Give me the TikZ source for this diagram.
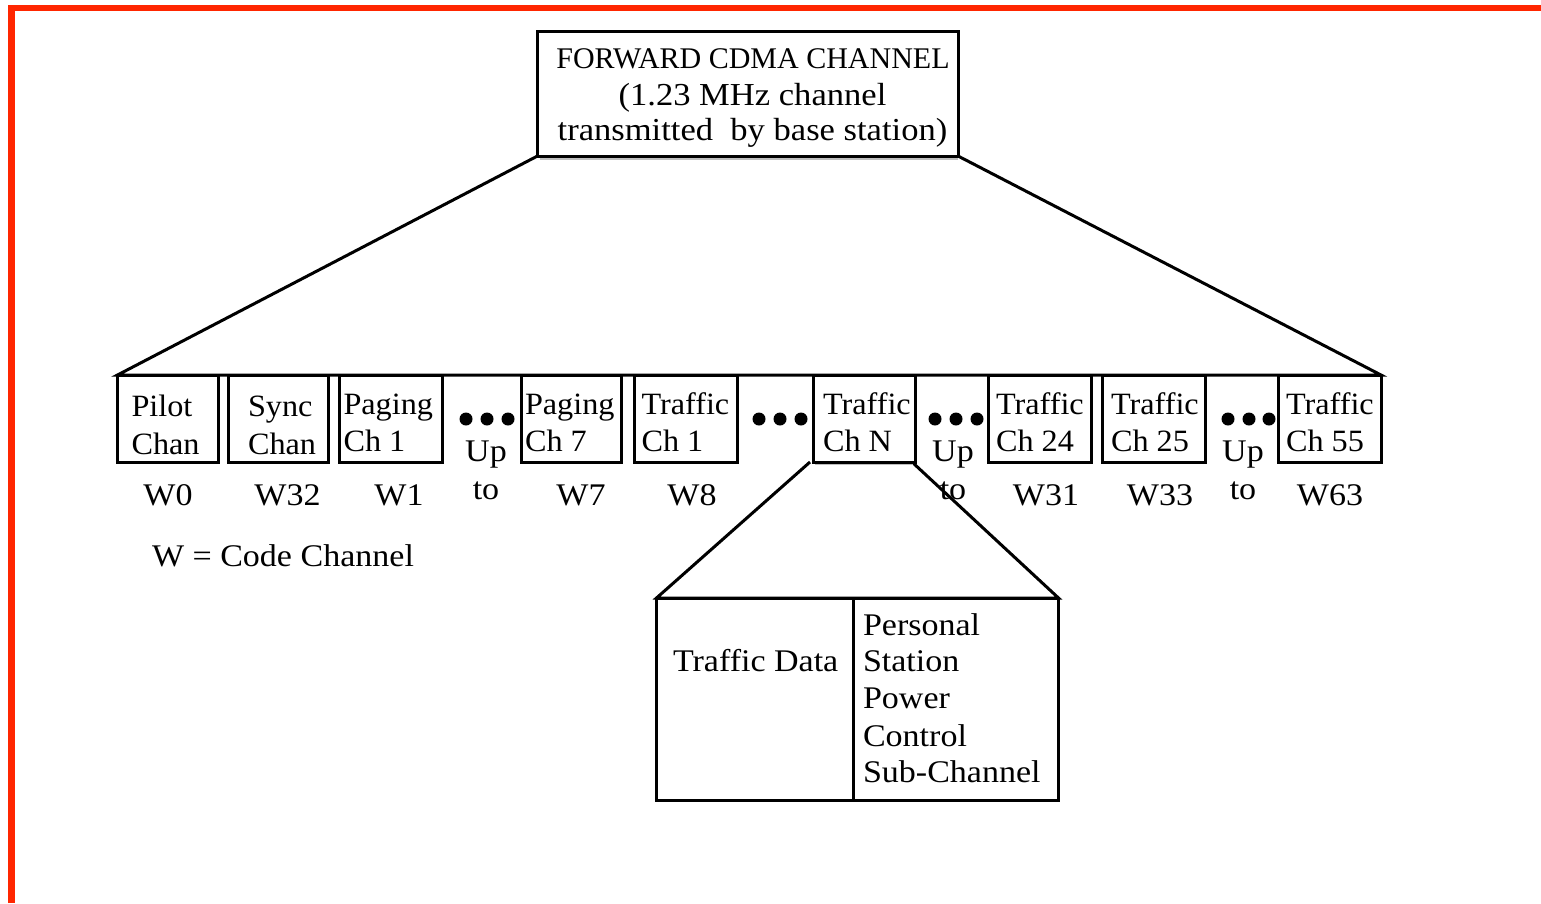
\documentclass[tikz,border=0pt]{standalone}
\usepackage{fontspec}
\setmainfont{Liberation Serif}
\newfontfamily\plainserif{Liberation Serif}
\newfontfamily\wideserif{Liberation Serif}[FakeStretch=1.08]
\newfontfamily\boxserif{Liberation Serif}[FakeStretch=1.04]
\usetikzlibrary{calc}
\definecolor{framered}{RGB}{255,38,0}
\definecolor{shadowgray}{RGB}{190,190,190}

\begin{document}
\begin{tikzpicture}[x=1pt,y=-1pt,
  every node/.style={inner sep=0pt, outer sep=0pt},
  chbox/.style={draw, line width=3pt, minimum width=#1, minimum height=87pt},
  bigbox/.style={draw, line width=3pt},
  link/.style={line width=3pt, line join=miter},
  txt/.style={anchor=base west, font=\wideserif\fontsize{31.5}{37}\selectfont},
  lab/.style={anchor=base west, font=\boxserif\fontsize{31}{37}\selectfont},
  ctr/.style={anchor=base, font=\wideserif\fontsize{31.5}{37}\selectfont},
  dotmark/.style={circle, fill, minimum size=13pt},
  shadowline/.style={shadowgray, line width=1.5pt}]

\useasboundingbox (0,0) rectangle (1541,903);

% page frame
\draw[framered, line width=6.5pt] (11.5,903) -- (11.5,8) -- (1541,8);

% forward channel box
\node[bigbox, minimum width=420.5pt, minimum height=125pt] (fwd) at (747.75,93.5) {};
\node[anchor=base, font=\plainserif\fontsize{30}{36}\selectfont] (fwdA) at (753,68) {FORWARD CDMA CHANNEL};
\node[anchor=base, font=\wideserif\fontsize{32}{37}\selectfont] (fwdB) at (752.5,105) {(1.23 MHz channel};
\node[anchor=base, font=\wideserif\fontsize{32}{37}\selectfont] (fwdC) at (752.5,140) {transmitted\ \ by base station)};
\draw[shadowline] ($(fwd.south west)+(2,3)$) -- ($(fwd.south east)+(0,3)$);

% code channel boxes
\node[chbox=101pt]   (pilot) at (168,418.5) {};
\node[chbox=100pt]   (sync)  at (278.5,418.5) {};
\node[chbox=103.5pt] (pagA)  at (390.75,418.5) {};
\node[chbox=100pt]   (pagB)  at (571,418.5) {};
\node[chbox=103.5pt] (trA)   at (685.75,418.5) {};
\node[chbox=102pt]   (trN)   at (864,418.5) {};
\node[chbox=103pt]   (trX)   at (1040,418.5) {};
\node[chbox=103pt]   (trY)   at (1153.5,418.5) {};
\node[chbox=103pt]   (trZ)   at (1329.5,418.5) {};

% box labels
\node[lab] (pilotA) at (131.5,416) {Pilot};
\node[lab] (pilotB) at (131.5,454) {Chan};
\node[lab] (syncA)  at (248,416) {Sync};
\node[lab] (syncB)  at (248,454) {Chan};
\node[lab] (pagAa)  at (343.5,414) {Paging};
\node[lab] (pagAb)  at (343.5,451) {Ch 1};
\node[lab] (pagBa)  at (525,414) {Paging};
\node[lab] (pagBb)  at (525,451) {Ch 7};
\node[lab] (trAa)   at (641.5,414) {Traffic};
\node[lab] (trAb)   at (641.5,451) {Ch 1};
\node[lab] (trNa)   at (823,414) {Traffic};
\node[lab] (trNb)   at (823,451) {Ch N};
\node[lab] (trXa)   at (996,414) {Traffic};
\node[lab] (trXb)   at (996,451) {Ch 24};
\node[lab] (trYa)   at (1111,414) {Traffic};
\node[lab] (trYb)   at (1111,451) {Ch 25};
\node[lab] (trZa)   at (1286,414) {Traffic};
\node[lab] (trZb)   at (1286,451) {Ch 55};

% ellipsis dots
\node[dotmark] (d1a) at (466,419) {};
\node[dotmark] (d1b) at (487,419) {};
\node[dotmark] (d1c) at (508,419) {};
\node[dotmark] (d2a) at (759,419) {};
\node[dotmark] (d2b) at (780,419) {};
\node[dotmark] (d2c) at (801,419) {};
\node[dotmark] (d3a) at (935,419) {};
\node[dotmark] (d3b) at (956,419) {};
\node[dotmark] (d3c) at (977,419) {};
\node[dotmark] (d4a) at (1228,419) {};
\node[dotmark] (d4b) at (1249,419) {};
\node[dotmark] (d4c) at (1269,419) {};

% "Up to" notes
\node[ctr] (upA) at (486,461) {Up};
\node[ctr] (toA) at (486,499) {to};
\node[ctr] (upB) at (953,461) {Up};
\node[ctr] (toB) at (953,499) {to};
\node[ctr] (upC) at (1243,461) {Up};
\node[ctr] (toC) at (1243,499) {to};

% Walsh code labels
\node[ctr] (w0)  at (168,505) {W0};
\node[ctr] (w32) at (287.5,505) {W32};
\node[ctr] (w1)  at (399,505) {W1};
\node[ctr] (w7)  at (581,505) {W7};
\node[ctr] (w8)  at (692,505) {W8};
\node[ctr] (w31) at (1046,505) {W31};
\node[ctr] (w33) at (1160,505) {W33};
\node[ctr] (w63) at (1330,505) {W63};

\node[txt] (legend) at (152,566) {W = Code Channel};

% traffic channel breakdown
\node[bigbox, minimum width=197pt, minimum height=202pt] (tdata) at (755,699) {};
\node[bigbox, minimum width=205pt, minimum height=202pt] (psc) at (956,699) {};
\node[txt] (tdataA) at (673,671) {Traffic Data};
\node[txt] (pscA) at (863,635) {Personal};
\node[txt] (pscB) at (863,671) {Station};
\node[txt] (pscC) at (863,708) {Power};
\node[txt] (pscD) at (863,746) {Control};
\node[txt] (pscE) at (863,782) {Sub-Channel};

% fan-out connectors
\draw[link] (fwd.south west) -- (pilot.north west) -- (trZ.north east) -- (fwd.south east);
\draw[link] ([xshift=-3pt]trN.south west) -- (tdata.north west) -- (psc.north east) -- ([xshift=-3pt]trN.south east);
\draw[shadowline] ($(trN.south west)+(2,2.5)$) -- ($(trN.south east)+(-2,2.5)$);

\end{tikzpicture}
\end{document}
